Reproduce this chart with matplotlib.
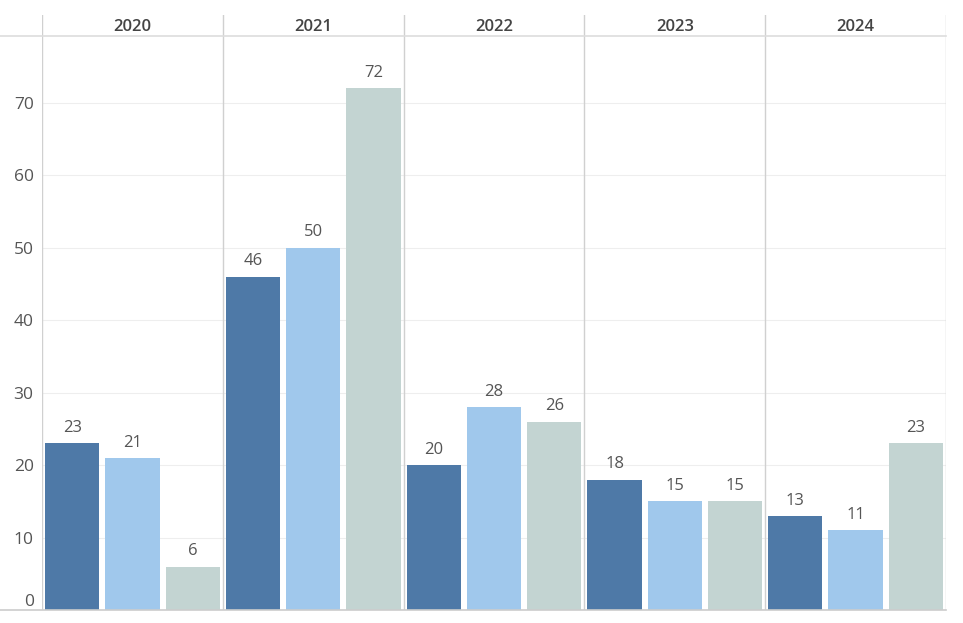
import matplotlib.pyplot as plt
import numpy as np

years = ['2020', '2021', '2022', '2023', '2024']
s1 = [23, 46, 20, 18, 13]   # dark blue
s2 = [21, 50, 28, 15, 11]   # light blue
s3 = [6, 72, 26, 15, 23]    # grey green
colors = ['#4e79a7', '#a0c8ec', '#c3d4d2']

plt.rcParams['font.family'] = ['Open Sans', 'DejaVu Sans']

W, H = 963, 623
fig = plt.figure(figsize=(W / 100, H / 100), dpi=100)

x0, x1 = 42, 946
ytop, yhead, ybot = 15, 36, 610
ax = fig.add_axes([x0 / W, 1 - ybot / H, (x1 - x0) / W, (ybot - yhead) / H])
hx = fig.add_axes([x0 / W, 1 - yhead / H, (x1 - x0) / W, (yhead - ytop) / H])

vals = []
for i in range(len(years)):
    vals += [s1[i], s2[i], s3[i]]
pos = np.arange(len(vals))
cols = colors * len(years)
ax.bar(pos, vals, width=0.9, color=cols, zorder=3)
for p, v in zip(pos, vals):
    ax.text(p, v + 1.0, str(v), ha='center', va='bottom', fontsize=12, color='#555555')

ax.set_xlim(-0.5, len(vals) - 0.5)
ax.set_ylim(0, 79.2)
ax.set_yticks(range(0, 80, 10))
ax.set_xticks([])
ax.tick_params(axis='y', length=0, labelsize=12.5, labelcolor='#555555', pad=6)
for lab in ax.get_yticklabels():
    lab.set_verticalalignment('bottom' if lab.get_text() == '0' else 'center_baseline')
ax.grid(axis='y', color='#eeeeee', lw=0.8, zorder=0)
for sp in ax.spines.values():
    sp.set_visible(False)
for k in range(len(years) + 1):
    ax.axvline(3 * k - 0.5, color='#d0d0d0', lw=1, zorder=4)

hx.set_xlim(-0.5, len(vals) - 0.5)
hx.set_ylim(0, 1)
hx.axis('off')
for k, y in enumerate(years):
    hx.text(3 * k + 1, 0.45, y, ha='center', va='center', fontsize=12,
            fontweight='semibold', color='#444444')
for k in range(len(years) + 1):
    hx.axvline(3 * k - 0.5, color='#d0d0d0', lw=1)

# header / base rules across full width
fig.add_artist(plt.Line2D([0, x1 / W], [1 - yhead / H] * 2, color='#dddddd', lw=1.2))
fig.add_artist(plt.Line2D([0, x1 / W], [1 - ybot / H] * 2, color='#cccccc', lw=1.2))

fig.savefig('out.png', dpi=100)
